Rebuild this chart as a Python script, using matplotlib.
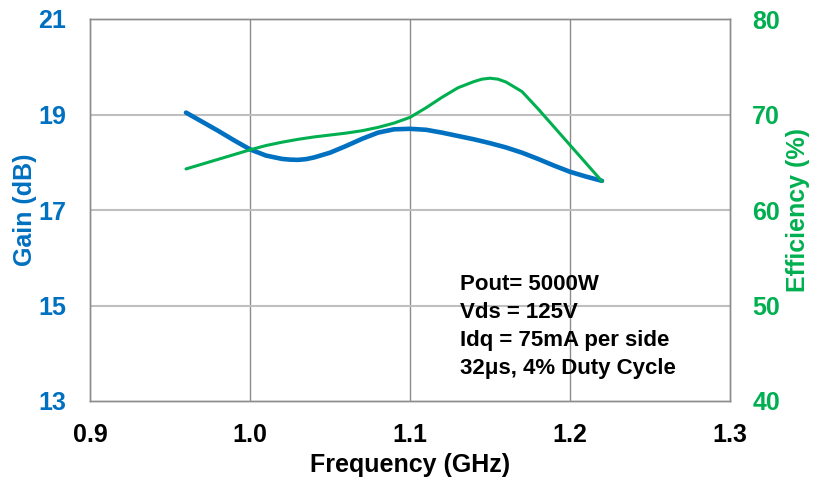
import matplotlib
matplotlib.use("Agg")
import matplotlib.pyplot as plt

plt.rcParams['font.family'] = ['Liberation Sans', 'DejaVu Sans']

freq_gain = [0.96, 0.97, 0.98, 0.99, 1.00, 1.01, 1.02, 1.025, 1.03, 1.035, 1.04, 1.05, 1.06, 1.07, 1.08, 1.09, 1.10,
             1.11, 1.12, 1.13, 1.14, 1.15, 1.16, 1.17, 1.18, 1.19, 1.20, 1.21, 1.22]
gain = [19.04, 18.85, 18.66, 18.46, 18.27, 18.14, 18.07, 18.055, 18.05, 18.065, 18.10, 18.20, 18.34, 18.49, 18.62, 18.69, 18.70,
        18.68, 18.62, 18.55, 18.48, 18.40, 18.31, 18.20, 18.07, 17.93, 17.80, 17.70, 17.61]

freq_eff = [0.96, 0.97, 0.98, 0.99, 1.00, 1.01, 1.02, 1.03, 1.04, 1.05, 1.06, 1.07, 1.08, 1.09, 1.10,
            1.11, 1.12, 1.13, 1.14, 1.145, 1.15, 1.155, 1.16, 1.17, 1.18, 1.19, 1.20, 1.21, 1.22]
efficiency = [64.3, 64.8, 65.3, 65.8, 66.3, 66.75, 67.1, 67.4, 67.65, 67.85, 68.05, 68.3, 68.65, 69.1, 69.7,
              70.7, 71.8, 72.8, 73.45, 73.7, 73.8, 73.7, 73.4, 72.4, 70.6, 68.7, 66.8, 64.9, 63.0]

x_ticks = [0.9, 1.0, 1.1, 1.2, 1.3]
x_labels = ["0.9", "1.0", "1.1", "1.2", "1.3"]
gain_ticks = [13, 15, 17, 19, 21]
eff_ticks = [40, 50, 60, 70, 80]
notes = ["Pout= 5000W", "Vds = 125V", "Idq = 75mA per side", "32\u03bcs, 4% Duty Cycle"]

BLUE = "#0070C0"
GREEN = "#00B050"
FS = 18

fig = plt.figure(figsize=(8.14, 4.82), dpi=100)
ax = fig.add_axes([90/814, 81/482, 640/814, 382/482])
ax2 = ax.twinx()

ax.set_xlim(0.9, 1.3)
ax.set_ylim(13, 21)
ax2.set_ylim(40, 80)

for v in x_ticks[1:-1]:
    ax.axvline(v, color="#8c8c8c", lw=1.0, zorder=0)
for v in gain_ticks[1:-1]:
    ax.axhline(v, color="#bfbfbf", lw=1.5, zorder=0)

ax.plot(freq_gain, gain, color=BLUE, lw=3.3, solid_capstyle='round', solid_joinstyle='round', zorder=3)
ax2.plot(freq_eff, efficiency, color=GREEN, lw=2.2, solid_capstyle='round', solid_joinstyle='round', zorder=3)

ax.set_xticks(x_ticks)
ax.set_xticklabels(x_labels)
ax.set_yticks(gain_ticks)
ax2.set_yticks(eff_ticks)

ax.tick_params(axis='x', length=0, pad=16, labelsize=FS, labelcolor='black')
ax.tick_params(axis='y', length=0, pad=17, labelsize=FS, labelcolor=BLUE)
ax2.tick_params(axis='y', length=0, pad=16, labelsize=FS, labelcolor=GREEN)
for lab in ax.get_xticklabels() + ax.get_yticklabels() + ax2.get_yticklabels():
    lab.set_fontweight('bold')

for a in (ax, ax2):
    for s in a.spines.values():
        s.set_color("#8c8c8c")
        s.set_linewidth(1.0)

ax.set_xlabel("Frequency (GHz)", fontsize=FS, fontweight='bold', labelpad=4)
ax.set_ylabel("Gain (dB)", fontsize=FS, fontweight='bold', color=BLUE, labelpad=0)
ax2.set_ylabel("Efficiency (%)", fontsize=FS, fontweight='bold', color=GREEN, labelpad=4)
ax.yaxis.set_label_coords(-53/640, 0.5)

ax.text(1.131, 15.67, "\n".join(notes), fontsize=16, fontweight='bold', color='black',
        ha='left', va='top', linespacing=1.44, zorder=4)

ax.set_zorder(ax2.get_zorder() - 1)
ax2.patch.set_visible(False)

fig.savefig("out.png", dpi=100)
